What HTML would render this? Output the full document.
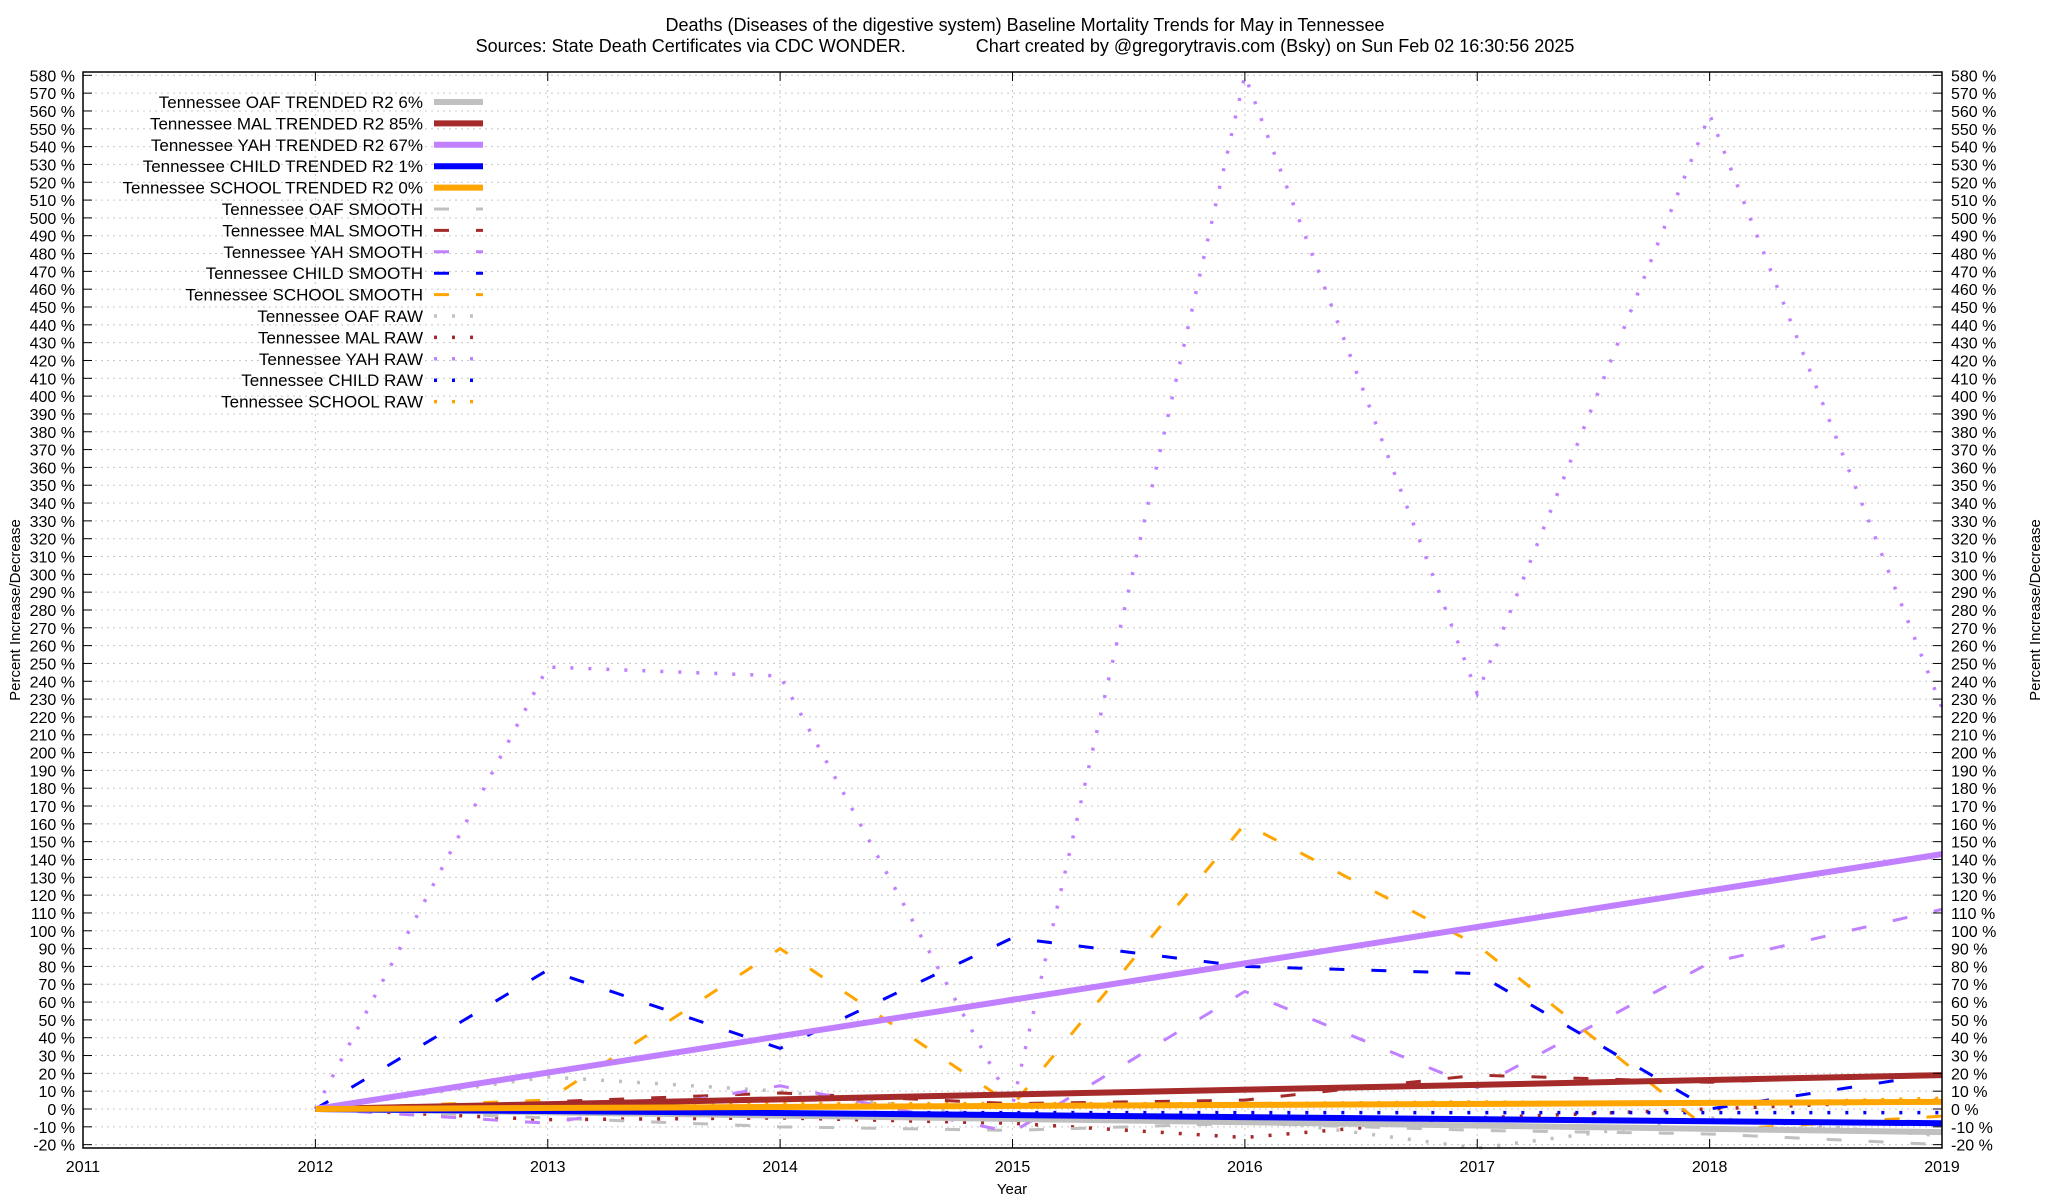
<!DOCTYPE html>
<html><head><meta charset="utf-8"><style>
body{margin:0;background:#fff;}
svg{display:block;font-family:"Liberation Sans",sans-serif;}
</style></head><body>
<svg id="chart" width="2048" height="1200" viewBox="0 0 2048 1200">
<text x="1025" y="31" font-size="18" text-anchor="middle">Deaths (Diseases of the digestive system)  Baseline Mortality Trends for May in Tennessee</text>
<text x="1025" y="52" font-size="18" text-anchor="middle" xml:space="preserve">Sources: State Death Certificates via CDC WONDER.              Chart created by @gregorytravis.com (Bsky) on Sun Feb 02 16:30:56 2025</text>
<text x="1012" y="1194" font-size="15" text-anchor="middle">Year</text>
<text transform="translate(20,610) rotate(-90)" font-size="15" text-anchor="middle">Percent Increase/Decrease</text>
<text transform="translate(2040,610) rotate(-90)" font-size="15" text-anchor="middle">Percent Increase/Decrease</text>
<g id="grid"></g><g id="series"></g><g id="axes"></g><g id="legend"></g>
</svg>
<script>
const years=[2012,2013,2014,2015,2016,2017,2018,2019];
const xTicks=[2011,2012,2013,2014,2015,2016,2017,2018,2019];
const yTicks=[-20,-10,0,10,20,30,40,50,60,70,80,90,100,110,120,130,140,150,160,170,180,190,200,210,220,230,240,250,260,270,280,290,300,310,320,330,340,350,360,370,380,390,400,410,420,430,440,450,460,470,480,490,500,510,520,530,540,550,560,570,580];
const oafTrend=[0,-13];
const malTrend=[0,19];
const yahTrend=[0,143];
const childTrend=[0,-8];
const schoolTrend=[0,4];
const oafSmooth=[0,-5,-10,-12,-8,-12,-14,-20];
const malSmooth=[0,4,9,3,5,19,15,20];
const yahSmooth=[0,-8,13,-13,66,12,82,112];
const childSmooth=[0,78,34,96,80,76,0,20];
const schoolSmooth=[0,5,90,2,160,92,-12,-4];
const oafRaw=[0,18,10,-5,-5,-22,-5,-15];
const malRaw=[0,-6,-5,-8,-16,-5,0,5];
const yahRaw=[0,248,243,2,580,233,558,225];
const childRaw=[0,-2,-2,-2,-2,-2,-2,-2];
const schoolRaw=[0,2,3,3,3,4,3,6];
const legendLabels=["Tennessee OAF TRENDED R2   6%","Tennessee MAL TRENDED R2  85%","Tennessee YAH TRENDED R2  67%","Tennessee CHILD TRENDED R2   1%","Tennessee SCHOOL TRENDED R2   0%","Tennessee OAF SMOOTH","Tennessee MAL SMOOTH","Tennessee YAH SMOOTH","Tennessee CHILD SMOOTH","Tennessee SCHOOL SMOOTH","Tennessee OAF RAW","Tennessee MAL RAW","Tennessee YAH RAW","Tennessee CHILD RAW","Tennessee SCHOOL RAW"];

const L=83,R=1942,T=72,B=1148;
const X=v=>L+(v-2011)*(R-L)/8;
const Y=v=>1109-v*1.7822;
const NS="http://www.w3.org/2000/svg";
function mk(tag,parent,attrs){const e=document.createElementNS(NS,tag);for(const k in attrs)e.setAttribute(k,attrs[k]);parent.appendChild(e);return e;}
const grid=document.getElementById('grid'),axes=document.getElementById('axes'),ser=document.getElementById('series'),leg=document.getElementById('legend');
yTicks.forEach(v=>{
  const g=mk('line',grid,{x1:L,x2:R,y1:Y(v),y2:Y(v),stroke:'#c8c8c8','stroke-width':1,'stroke-dasharray':'2,4'});
  
  
  const t1=mk('line',axes,{x1:L,x2:L+9,y1:Y(v),y2:Y(v),stroke:'#000','stroke-width':1});
  const t2=mk('line',axes,{x1:R-9,x2:R,y1:Y(v),y2:Y(v),stroke:'#000','stroke-width':1});
  const a=mk('text',axes,{x:L-8,y:Y(v)+6,'font-size':16,'text-anchor':'end'});a.textContent=v+' %';
  
  
  const b=mk('text',axes,{x:R+9,y:Y(v)+6,'font-size':16});b.textContent=v+' %';
  
  
});
xTicks.forEach(v=>{
  const g=mk('line',grid,{x1:X(v),x2:X(v),y1:T,y2:B,stroke:'#c8c8c8','stroke-width':1,'stroke-dasharray':'2,4'});
  
  
  mk('line',axes,{x1:X(v),x2:X(v),y1:B,y2:B-9,stroke:'#000'});
  mk('line',axes,{x1:X(v),x2:X(v),y1:T,y2:T+9,stroke:'#000'});
  const t=mk('text',axes,{x:X(v),y:B+24,'font-size':16,'text-anchor':'middle'});t.textContent=v;
  
  
});
const frame=mk('rect',axes,{x:L,y:T,width:R-L,height:B-T,fill:'none',stroke:'#000','stroke-width':1.5});



const GREY='#c0c0c0',MAL='#a52a2a',YAH='#c080ff',CHILD='#0000ff',SCHOOL='#ffa500';
const styles={trend:{w:6,d:''},smooth:{w:3,d:'15,27'},raw:{w:3.5,d:'3,15'}};
function series(arr,xs,color,kind,name){
  const pts=arr.map((v,i)=>X(xs[i])+','+Y(v)).join(' ');
  const p=mk('polyline',ser,{points:pts,fill:'none',stroke:color,'stroke-width':styles[kind].w,'stroke-dasharray':styles[kind].d});
  
  
}
const ends=[2012,2019];
series(yahRaw,years,YAH,'raw','yah-raw-line');
series(malRaw,years,MAL,'raw','mal-raw-line');
series(oafRaw,years,GREY,'raw','oaf-raw-line');
series(schoolRaw,years,SCHOOL,'raw','school-raw-line');
series(childRaw,years,CHILD,'raw','child-raw-line');
series(oafSmooth,years,GREY,'smooth','oaf-smooth-line');
series(malSmooth,years,MAL,'smooth','mal-smooth-line');
series(yahSmooth,years,YAH,'smooth','yah-smooth-line');
series(childSmooth,years,CHILD,'smooth','child-smooth-line');
series(schoolSmooth,years,SCHOOL,'smooth','school-smooth-line');
series(oafTrend,ends,GREY,'trend','oaf-trend-line');
series(malTrend,ends,MAL,'trend','mal-trend-line');
series(yahTrend,ends,YAH,'trend','yah-trend-line');
series(childTrend,ends,CHILD,'trend','child-trend-line');
series(schoolTrend,ends,SCHOOL,'trend','school-trend-line');

const legColors=[GREY,MAL,YAH,CHILD,SCHOOL,GREY,MAL,YAH,CHILD,SCHOOL,GREY,MAL,YAH,CHILD,SCHOOL];
const legKinds=['trend','trend','trend','trend','trend','smooth','smooth','smooth','smooth','smooth','raw','raw','raw','raw','raw'];
legendLabels.forEach((lab,i)=>{
  const y=102+i*21.4;
  const t=mk('text',leg,{x:423,y:y+6,'font-size':17,'text-anchor':'end','xml:space':'preserve'});t.textContent=lab;
  
  
  const k=legKinds[i];
  const s=mk('line',leg,{x1:434,x2:483,y1:y,y2:y,stroke:legColors[i],'stroke-width':styles[k].w,'stroke-dasharray':styles[k].d});
  
  
});
</script>
</body></html>
